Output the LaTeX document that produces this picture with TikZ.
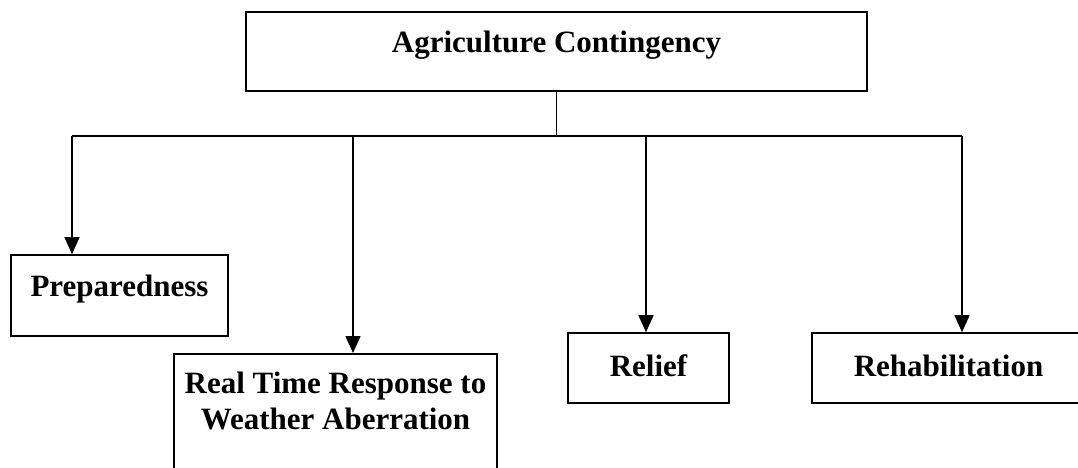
\documentclass[tikz,border=0pt]{standalone}
\usepackage{fontspec}
\setmainfont{Liberation Serif}
\usetikzlibrary{arrows.meta}

\begin{document}
\begin{tikzpicture}[x=1pt,y=-1pt,
                box/.style={draw, black, line width=1.6pt, inner sep=0pt, font=\fontsize{31}{36}\selectfont\bfseries},
                link/.style={black, line width=1.4pt},
                arr/.style={link, -{Triangle[width=15pt,length=17pt]}}]
                \useasboundingbox (0,0) rectangle (1078,468);
                \clip (0,0) rectangle (1078,468);
                \node [box, anchor=base, minimum width=621pt, text height=41pt, text depth=38pt] (agri) at (556.5,53) {Agriculture Contingency};
                \node [box, anchor=base, minimum width=217pt, text height=41pt, text depth=40pt] (prep) at (119.5,296) {Preparedness};
                \node [box, anchor=north, minimum width=323pt, inner ysep=18pt, align=center] (realtime) at (335.5,353) {Real Time Response to\\Weather Aberration\\[60pt]};
                \node [box, anchor=base, minimum width=161pt, text height=43pt, text depth=27pt] (relief) at (648.5,376) {Relief};
                \node [box, anchor=base, minimum width=273pt, text height=43pt, text depth=27pt] (rehab) at (948.5,376) {Rehabilitation};
                \coordinate (b1) at (72,136);
                \coordinate (b2) at (353,136);
                \coordinate (b3) at (646,136);
                \coordinate (b4) at (962,136);
                \draw [link] (agri.south) -- (agri.south |- b1);
                \draw [link] (b1) -- (b4);
                \draw [arr] (b1) -- (b1 |- prep.north);
                \draw [arr] (b2) -- (b2 |- realtime.north);
                \draw [arr] (b3) -- (b3 |- relief.north);
                \draw [arr] (b4) -- (b4 |- rehab.north);
\end{tikzpicture}
\end{document}
